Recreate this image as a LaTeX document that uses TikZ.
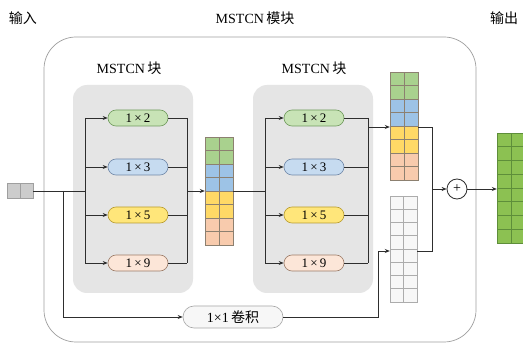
\documentclass[tikz,border=0pt]{standalone}
\usepackage{fontspec}
\setmainfont{Liberation Serif}
\newfontfamily\cjk{Noto Sans CJK SC}
\usetikzlibrary{arrows.meta,shapes.misc,calc}
\definecolor{linec}{HTML}{2E2E2E}
\definecolor{cgreen}{HTML}{A9D18E}
\definecolor{cblue}{HTML}{9DC3E6}
\definecolor{cyellow}{HTML}{FFD966}
\definecolor{cpeach}{HTML}{F8CBAD}
\definecolor{cellline}{HTML}{8C8070}
\definecolor{pgreen}{HTML}{C8E3B6}
\definecolor{pgreend}{HTML}{6F9A5C}
\definecolor{pblue}{HTML}{C6DBF0}
\definecolor{pblued}{HTML}{7088A8}
\definecolor{pyellow}{HTML}{FFE67A}
\definecolor{pyellowd}{HTML}{B89C30}
\definecolor{ppeach}{HTML}{FCE6D8}
\definecolor{ppeachd}{HTML}{9C7C68}
\definecolor{outg}{HTML}{8CC152}
\definecolor{outgd}{HTML}{5E8E3A}
\begin{document}
\begin{tikzpicture}[x=1pt,y=-1pt,
  conn/.style={draw=linec, line width=0.7pt},
  arr/.style={conn, -{Stealth[length=5pt,width=4pt]}},
  pill/.style={rounded rectangle, minimum width=60pt, minimum height=16pt, inner sep=0pt, line width=0.6pt, font=\fontsize{13}{14}\selectfont},
  blockbox/.style={rounded corners=14pt, fill=gray!20, draw=none, minimum width=120pt, minimum height=208pt, inner sep=0pt},
  outerbox/.style={rounded corners=32pt, draw=gray!75, line width=0.7pt, fill=white, minimum width=432pt, minimum height=305pt, inner sep=0pt},
  title/.style={font=\fontsize{14}{15}\selectfont, inner sep=0pt},
  colbox/.style={draw=none, inner sep=0pt, minimum width=28pt, minimum height=108pt},
  cell/.style={draw=cellline, line width=0.5pt},
  gcell/.style={draw=gray!65, fill=gray!6, line width=0.5pt},
  ocell/.style={draw=outgd, fill=outg, line width=0.5pt}
]
\useasboundingbox (0,0) rectangle (523,350);
\clip (0,0) rectangle (523,350);

% outer module
\node[outerbox] (mod) at (260,189.5) {};
\node[blockbox] (b1) at (133,189) {};
\node[blockbox] (b2) at (313,189) {};

% titles
\node[title] (tin) at (23,18) {\cjk 输入};
\node[title] (tmod) at (255,18) {MSTCN\,{\cjk 模块}};
\node[title, anchor=west] (tout) at (490,18) {\cjk 输出};
\node[title] (tb1) at (129,68) {MSTCN\,{\cjk 块}};
\node[title] (tb2) at (314,68) {MSTCN\,{\cjk 块}};

% pills block 1
\node[pill, fill=pgreen, draw=pgreend] (p12) at (138,118) {1\,×\,2};
\node[pill, fill=pblue, draw=pblued] (p13) at (138,167) {1\,×\,3};
\node[pill, fill=pyellow, draw=pyellowd] (p15) at (138,215) {1\,×\,5};
\node[pill, fill=ppeach, draw=ppeachd] (p19) at (138,263) {1\,×\,9};
% pills block 2
\node[pill, fill=pgreen, draw=pgreend] (q12) at (314,118) {1\,×\,2};
\node[pill, fill=pblue, draw=pblued] (q13) at (314,167) {1\,×\,3};
\node[pill, fill=pyellow, draw=pyellowd] (q15) at (314,215) {1\,×\,5};
\node[pill, fill=ppeach, draw=ppeachd] (q19) at (314,263) {1\,×\,9};
% conv pill
\node[pill, minimum width=100pt, minimum height=22pt, fill=gray!6, draw=gray!70, font=\fontsize{14}{15}\selectfont] (conv) at (233,317) {1×1\,{\cjk 卷积}};

% input box
\node[draw=gray!75, fill=gray!40, minimum width=26pt, minimum height=15pt, inner sep=0pt, line width=0.5pt] (in) at (20,191) {};
\draw[draw=gray!75, line width=0.5pt] (in.north) -- (in.south);

% feature columns
\node[colbox] (c1) at (219,191) {};
\node[colbox] (c2) at (404,126) {};
\node[colbox, minimum width=27pt, minimum height=106pt] (c3) at (403.5,249) {};
\node[colbox, minimum height=110pt] (c4) at (511,188) {};
\foreach \i/\c in {0/cgreen,1/cgreen,2/cblue,3/cblue,4/cyellow,5/cyellow,6/cpeach,7/cpeach}{
  \foreach \j in {0,1}{
    \draw[cell, fill=\c] ($(c1.north west)+(\j*14,\i*13.5)$) rectangle ++(14,13.5);
    \draw[cell, fill=\c] ($(c2.north west)+(\j*14,\i*13.5)$) rectangle ++(14,13.5);
    \draw[gcell] ($(c3.north west)+(\j*13.5,\i*13.25)$) rectangle ++(13.5,13.25);
    \draw[ocell] ($(c4.north west)+(\j*14,\i*13.75)$) rectangle ++(14,13.75);
  }
}

% plus
\node[circle, draw=linec, line width=0.8pt, minimum size=20pt, inner sep=0pt, font=\fontsize{14}{14}\selectfont] (plus) at (457,189) {+};

% bus coordinates
\coordinate (L1) at (85,0);
\coordinate (R1) at (187,0);
\coordinate (L2) at (265,0);
\coordinate (R2) at (368,0);
\coordinate (S) at (63,0);
\coordinate (J) at (432,0);
\coordinate (K) at (378,0);
\coordinate (G) at (0,251);
\coordinate (O2) at (0,127);

% input
\draw[conn] (in.east) -- (in -| L1);
\draw[arr] (in -| S) |- (conv.west);

% block 1
\draw[conn] (p12 -| L1) -- (p19 -| L1);
\draw[conn] (p12 -| R1) -- (p19 -| R1);
\foreach \p in {p12,p13,p15,p19}{
  \draw[arr] (\p -| L1) -- (\p.west);
  \draw[conn] (\p.east) -- (\p -| R1);
}
\draw[arr] (c1 -| R1) -- (c1.west);
\draw[conn] (c1.east) -- (c1 -| L2);

% block 2
\draw[conn] (q12 -| L2) -- (q19 -| L2);
\draw[conn] (q12 -| R2) -- (q19 -| R2);
\foreach \p in {q12,q13,q15,q19}{
  \draw[arr] (\p -| L2) -- (\p.west);
  \draw[conn] (\p.east) -- (\p -| R2);
}
\draw[arr] (O2 -| R2) -- (O2 -| c2.west);
\draw[conn] (O2 -| c2.east) -- (O2 -| J) -- (plus -| J);

% skip path
\draw[conn] (conv.east) -| (G -| K);
\draw[arr] (G -| K) -- (G -| c3.west);
\draw[conn] (G -| c3.east) -- (G -| J) -- (plus -| J);

% sum and output
\draw[arr] (plus -| J) -- (plus.west);
\draw[arr] (plus.east) -- (plus -| c4.west);
\end{tikzpicture}
\end{document}
